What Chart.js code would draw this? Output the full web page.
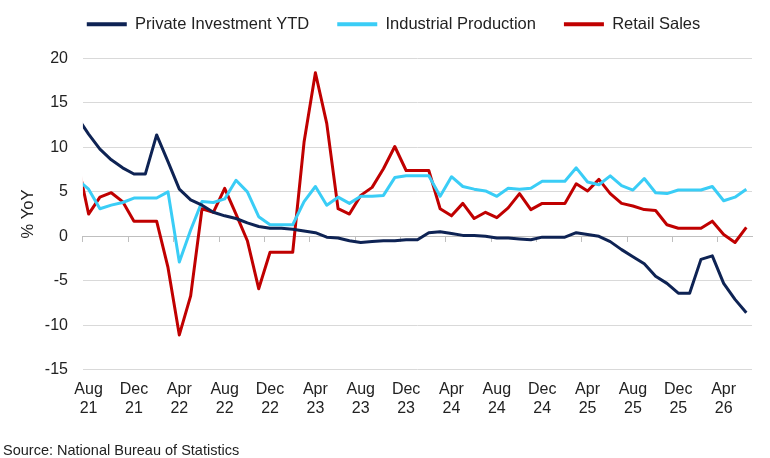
<!DOCTYPE html>
<html>
<head>
<meta charset="utf-8">
<script src="https://cdn.jsdelivr.net/npm/chart.js@4/dist/chart.umd.min.js"></script>
<style>
    html, body { margin: 0; padding: 0; background: #fff; }
    #wrap { position: relative; width: 770px; height: 458px; }
    #source {
        position: absolute; left: 3px; top: 442px;
        font-family: "Liberation Sans", Arial, sans-serif;
        font-size: 14.5px; color: #222;
    }
</style>
</head>
<body>
<div id="wrap">
    <canvas id="chart" width="770" height="458"></canvas>
    <div id="source">Source: National Bureau of Statistics</div>
</div>
<script>
/* China activity data · monthly, Jul 21 - Jun 26
   Jul 21 sits just left of the axis, so only its clipped segment shows */

var MONTHS = [
    'Jul 21', 'Aug 21', 'Sep 21', 'Oct 21', 'Nov 21', 'Dec 21',
    'Jan 22', 'Feb 22', 'Mar 22', 'Apr 22', 'May 22', 'Jun 22', 'Jul 22', 'Aug 22', 'Sep 22', 'Oct 22', 'Nov 22', 'Dec 22',
    'Jan 23', 'Feb 23', 'Mar 23', 'Apr 23', 'May 23', 'Jun 23', 'Jul 23', 'Aug 23', 'Sep 23', 'Oct 23', 'Nov 23', 'Dec 23',
    'Jan 24', 'Feb 24', 'Mar 24', 'Apr 24', 'May 24', 'Jun 24', 'Jul 24', 'Aug 24', 'Sep 24', 'Oct 24', 'Nov 24', 'Dec 24',
    'Jan 25', 'Feb 25', 'Mar 25', 'Apr 25', 'May 25', 'Jun 25', 'Jul 25', 'Aug 25', 'Sep 25', 'Oct 25', 'Nov 25', 'Dec 25',
    'Jan 26', 'Feb 26', 'Mar 26', 'Apr 26', 'May 26', 'Jun 26'
];
var FIRST_MONTH = 'Aug 21';

var PRIVATE_INV = [
    13.4, 11.5, 9.8, 8.6, 7.7, 7.0,
    7.0, 11.4, 8.4, 5.3, 4.1, 3.5, 2.7, 2.3, 2.0, 1.5, 1.1, 0.9,
    0.9, 0.8, 0.6, 0.4, -0.1, -0.2, -0.5, -0.7, -0.6, -0.5, -0.5, -0.4,
    -0.4, 0.4, 0.5, 0.3, 0.1, 0.1, 0.0, -0.2, -0.2, -0.3, -0.4, -0.1,
    -0.1, -0.1, 0.4, 0.2, 0.0, -0.6, -1.5, -2.3, -3.1, -4.5, -5.3, -6.4,
    -6.4, -2.6, -2.2, -5.3, -7.1, -8.6
];
var INDUSTRIAL = [
    6.4, 5.3, 3.1, 3.5, 3.8, 4.3,
    4.3, 4.3, 5.0, -2.9, 0.7, 3.9, 3.8, 4.2, 6.3, 5.0, 2.2, 1.3,
    1.3, 1.3, 3.9, 5.6, 3.5, 4.4, 3.7, 4.5, 4.5, 4.6, 6.6, 6.8,
    6.8, 6.8, 4.5, 6.7, 5.6, 5.3, 5.1, 4.5, 5.4, 5.3, 5.4, 6.2,
    6.2, 6.2, 7.7, 6.1, 5.8, 6.8, 5.7, 5.2, 6.5, 4.9, 4.8, 5.2,
    5.2, 5.2, 5.6, 4.0, 4.4, 5.3
];
var RETAIL = [
    8.5, 2.5, 4.4, 4.9, 3.9, 1.7,
    1.7, 1.7, -3.5, -11.1, -6.7, 3.1, 2.7, 5.4, 2.5, -0.5, -5.9, -1.8,
    -1.8, -1.8, 10.6, 18.4, 12.7, 3.1, 2.5, 4.6, 5.5, 7.6, 10.1, 7.4,
    7.4, 7.4, 3.1, 2.3, 3.7, 2.0, 2.7, 2.1, 3.2, 4.8, 3.0, 3.7,
    3.7, 3.7, 5.9, 5.1, 6.4, 4.8, 3.7, 3.4, 3.0, 2.9, 1.3, 0.9,
    0.9, 0.9, 1.7, 0.2, -0.7, 1.0
];

var Y_MIN = -15, Y_MAX = 20, Y_STEP = 5;
var LABEL_EVERY = 4;

var NAVY = '#0E2354';
var CYAN = '#3ACDF6';
var RED  = '#C00000';
var GRID = '#D9D9D9';
var TEXT = '#222222';
var FONT = '"Liberation Sans", Arial, sans-serif';

function series(label, data, color) {
    return {
        label: label,
        data: data,
        borderColor: color,
        backgroundColor: color,
        borderWidth: 3,
        borderJoinStyle: 'round',
        pointRadius: 0,
        tension: 0,
        clip: { left: 0, right: 3, top: 3, bottom: 3 }
    };
}

// extra room under the legend row, and nudge the row a little right
var legendTweak = {
    id: 'legendTweak',
    beforeInit: function(chart) {
        var legend = chart.legend;
        var fit = legend.fit;
        var draw = legend.draw;
        legend.fit = function() {
            fit.call(this);
            this.height += 16;
        };
        legend.draw = function() {
            this.ctx.save();
            this.ctx.translate(9, 0);
            draw.call(this);
            this.ctx.restore();
        };
    }
};

new Chart(document.getElementById('chart'), {
    type: 'line',
    data: {
        labels: MONTHS,
        datasets: [
            series('Private Investment YTD', PRIVATE_INV, NAVY),
            series('Industrial Production', INDUSTRIAL, CYAN),
            series('Retail Sales', RETAIL, RED)
        ]
    },
    plugins: [legendTweak],
    options: {
        responsive: false,
        animation: false,
        layout: { padding: { left: 17, right: 18, top: -12, bottom: 30 } },
        plugins: {
            tooltip: { enabled: false },
            legend: {
                position: 'top',
                labels: {
                    color: TEXT,
                    font: { family: FONT, size: 16.5 },
                    boxWidth: 40,
                    boxHeight: 4,
                    padding: 28,
                    generateLabels: function(chart) {
                        return Chart.defaults.plugins.legend.labels.generateLabels(chart).map(function(l) {
                            l.lineWidth = 0;
                            return l;
                        });
                    }
                }
            }
        },
        scales: {
            x: {
                type: 'category',
                min: FIRST_MONTH,
                offset: true,
                grid: { display: false, drawTicks: false },
                border: { display: false },
                ticks: {
                    autoSkip: false,
                    maxRotation: 0,
                    padding: 10,
                    color: TEXT,
                    font: { family: FONT, size: 16, lineHeight: 1.2 },
                    callback: function(value, index) {
                        if (index % LABEL_EVERY !== 0) return null;
                        return this.getLabelForValue(value).split(' ');
                    }
                }
            },
            x0: {
                type: 'category',
                min: FIRST_MONTH,
                offset: true,
                position: { y: 0 },
                grid: {
                    offset: true,
                    drawOnChartArea: false,
                    drawTicks: true,
                    tickLength: 5,
                    tickColor: function(ctx) {
                        return ctx.index % LABEL_EVERY === 0 ? '#BFBFBF' : 'rgba(0,0,0,0)';
                    }
                },
                border: { display: true, color: '#BFBFBF', width: 1 },
                ticks: { display: false, autoSkip: false }
            },
            y: {
                min: Y_MIN,
                max: Y_MAX,
                ticks: {
                    stepSize: Y_STEP,
                    padding: 15,
                    color: TEXT,
                    font: { family: FONT, size: 16 }
                },
                grid: { color: GRID, lineWidth: 1, drawTicks: false },
                border: { display: false },
                title: {
                    display: true,
                    text: '% YoY',
                    color: TEXT,
                    font: { family: FONT, size: 16.5 },
                    padding: { top: 2, bottom: -9 }
                }
            }
        }
    }
});
</script>
</body>
</html>
